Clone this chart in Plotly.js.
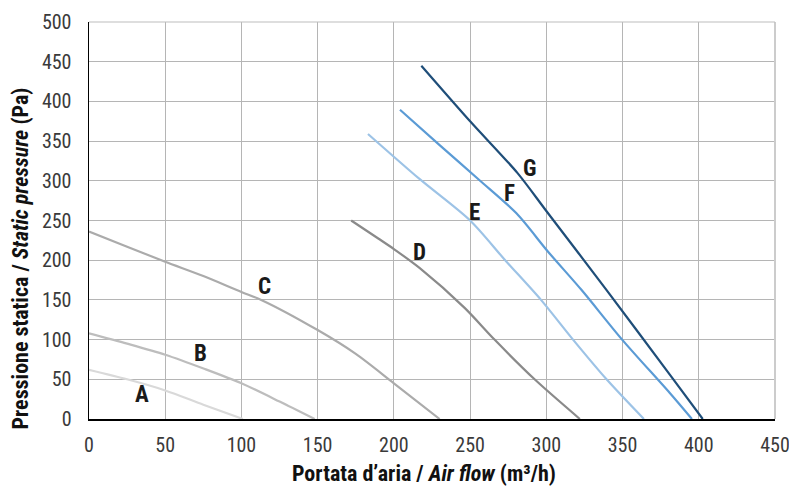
<!DOCTYPE html>
<html><head><meta charset="utf-8">
<script src="https://cdn.plot.ly/plotly-3.0.1.min.js"></script>
<style>html,body{margin:0;padding:0;background:#fff}</style>
</head><body><div id="chart" style="width:789px;height:487px"></div>
<script>
// Curve data (air flow m3/h, static pressure Pa)
const A_x = [0, 25, 50, 75, 101];
const A_y = [62, 50, 36, 18, 0];
const B_x = [0, 25, 50, 76, 100, 125, 148];
const B_y = [108, 95, 81, 63, 45, 22, 0];
const C_x = [0, 25, 50, 75, 100, 113, 150, 175, 200, 230];
const C_y = [236, 217, 198, 180, 160, 150, 112, 82, 45, 0];
const D_x = [172, 190, 200, 217, 246.4, 266, 292.3, 322];
const D_y = [250, 227, 214, 190, 140, 100, 50, 0];
const E_x = [183, 217, 250, 273, 296.5, 317.5, 339.5, 364];
const E_y = [359, 302, 250, 200, 150, 100, 50, 0];
const F_x = [204, 230, 256, 280.4, 301, 323, 349.7, 381, 395.5];
const F_y = [389.5, 345, 301, 259, 211, 162.7, 100, 32.7, 0];
const G_x = [218, 250, 281, 300, 339.4, 381, 402.6];
const G_y = [445, 375, 310, 262, 162.7, 55.8, 0];
const labelNames = ['A', 'B', 'C', 'D', 'E', 'F', 'G'];
const labelX = [35, 73, 115, 217, 252.6, 276, 289];
const labelY = [31, 83, 167, 210, 260.5, 284, 316];
const xTitle = 'Portata d’aria / <i>Air flow</i> (m³/h)';
const yTitle = 'Pressione statica / <i>Static pressure</i> (Pa)';

const colors = ['#d9d9d9', '#bdbdbd', '#ababab', '#8a8a8a', '#9dc3e6', '#5b9bd5', '#1f4e79'];
const xs = [A_x, B_x, C_x, D_x, E_x, F_x, G_x];
const ys = [A_y, B_y, C_y, D_y, E_y, F_y, G_y];

const traces = xs.map((x, i) => ({
  x: x, y: ys[i], type: 'scatter', mode: 'lines', name: labelNames[i],
  line: {color: colors[i], width: 2.2, shape: 'spline', smoothing: 0.8},
  hoverinfo: 'x+y'
}));

const FONT = '"Liberation Sans Narrow", "Roboto Condensed", Roboto, "Liberation Sans", sans-serif';

const annotations = labelNames.map((n, i) => ({
  x: labelX[i], y: labelY[i], xref: 'x', yref: 'y', text: '<b>' + n + '</b>',
  showarrow: false, font: {family: FONT, size: 23, color: '#1a1a1a'}
}));
annotations.push({
  x: 0.488, y: -0.1735, xref: 'paper', yref: 'paper', xanchor: 'center', yanchor: 'bottom',
  text: '<b>' + xTitle + '</b>', showarrow: false, font: {family: FONT, size: 22, color: '#111'}
});
annotations.push({
  x: -0.0996, y: 0.4035, xref: 'paper', yref: 'paper', xanchor: 'center', yanchor: 'middle',
  textangle: -90, text: '<b>' + yTitle + '</b>', showarrow: false, font: {family: FONT, size: 22, color: '#111'}
});

const layout = {
  width: 789, height: 487,
  margin: {l: 89, r: 14, t: 22, b: 68},
  paper_bgcolor: '#fff', plot_bgcolor: '#fff',
  showlegend: false,
  font: {family: FONT, size: 20, color: '#333'},
  xaxis: {
    range: [0, 450], dtick: 50, tick0: 0,
    showgrid: true, gridcolor: '#b5b5b5', gridwidth: 1,
    showline: true, linecolor: '#000', linewidth: 1.5,
    zeroline: false, ticks: '', ticklen: 0, ticklabelstandoff: 7,
    ticklabeloverflow: 'allow',
    tickfont: {family: FONT, size: 20, color: '#3a3a3a'}
  },
  yaxis: {
    range: [0, 500], dtick: 50, tick0: 0,
    showgrid: true, gridcolor: '#b5b5b5', gridwidth: 1,
    showline: true, linecolor: '#000', linewidth: 1.5,
    zeroline: false, ticks: '', ticklen: 0, ticklabelstandoff: 12,
    ticklabeloverflow: 'allow',
    tickfont: {family: FONT, size: 20, color: '#3a3a3a'}
  },
  shapes: [
    {type: 'line', xref: 'paper', yref: 'paper', x0: 1, x1: 1, y0: 0, y1: 1, line: {color: '#cccccc', width: 2}},
    {type: 'line', xref: 'paper', yref: 'paper', x0: 0, x1: 1, y0: 1, y1: 1, line: {color: '#bdbdbd', width: 1}}
  ],
  annotations: annotations
};

Plotly.newPlot('chart', traces, layout, {displayModeBar: false, staticPlot: true});
</script></body></html>
